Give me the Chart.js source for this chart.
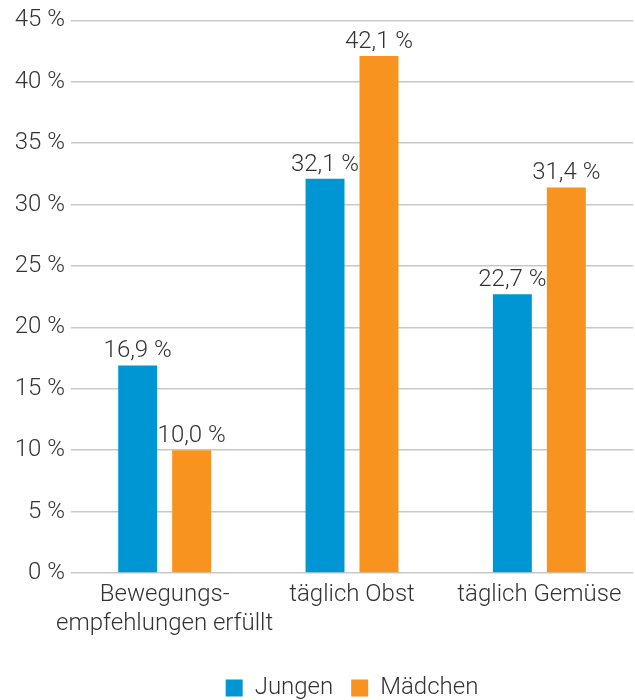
<!DOCTYPE html>
<html>
<head>
<meta charset="utf-8">
<script src="https://cdn.jsdelivr.net/npm/chart.js@4"></script>
<style>
html, body { margin: 0; padding: 0; background: #fff; }
#wrap { width: 635px; height: 700px; }
</style>
</head>
<body>
<div id="wrap"><canvas id="chart" width="635" height="700"></canvas></div>
<script>
const categories = [["Bewegungs-", "empfehlungen erfüllt"], "täglich Obst", "täglich Gemüse"]
const jungen = [16.9, 32.1, 22.7]
const maedchen = [10.0, 42.1, 31.4]
const yTicks = [0, 5, 10, 15, 20, 25, 30, 35, 40, 45]

const textColor = "#333333"
const fontFamily = "Roboto, 'Liberation Sans', sans-serif"
const labelFont = { family: fontFamily, size: 24, weight: 300 }

// writes the value above each bar, German decimal comma
const valueLabels = {
  id: "valueLabels",
  afterDatasetsDraw(chart) {
    const ctx = chart.ctx
    ctx.save()
    ctx.font = "300 24px " + fontFamily
    ctx.fillStyle = textColor
    ctx.textAlign = "center"
    ctx.textBaseline = "alphabetic"
    chart.data.datasets.forEach((ds, i) => {
      chart.getDatasetMeta(i).data.forEach((bar, j) => {
        const txt = ds.data[j].toFixed(1).replace(".", ",") + " %"
        ctx.fillText(txt, bar.x, bar.y - 8)
      })
    })
    ctx.restore()
  }
}

const ctx = document.getElementById("chart")

new Chart(ctx, {

type: "bar",

data: {
labels: categories,
datasets: [
{ label: "Jungen", data: jungen, backgroundColor: "#0096d4" },
{ label: "Mädchen", data: maedchen, backgroundColor: "#f7931e" }
]
},

options: {
responsive: false,
animation: false,
layout: { padding: { top: 13, right: 2, left: 0, bottom: -10 } },
datasets: { bar: { categoryPercentage: 0.576, barPercentage: 0.722 } },
scales: {
x: {
grid: { display: false },
border: { display: false },
afterFit: axis => { axis.height = 85 },
ticks: { color: textColor, font: labelFont, padding: 0, maxRotation: 0, autoSkip: false }
},
y: {
min: 0,
max: 45,
afterBuildTicks: axis => { axis.ticks = yTicks.map(v => ({ value: v })) },
afterFit: axis => { axis.width = 71 },
border: { display: false },
grid: { color: "#c8c8c8", lineWidth: 1.5, drawTicks: false },
ticks: {
color: textColor,
font: labelFont,
padding: 6,
callback: v => v + " %"
}
}
},
plugins: {
tooltip: { enabled: false },
legend: {
position: "bottom",
fullSize: false,
labels: {
color: textColor,
font: labelFont,
boxWidth: 17,
boxHeight: 17,
padding: 18
}
}
}
},

plugins: [valueLabels]

})
</script>
</body>
</html>
